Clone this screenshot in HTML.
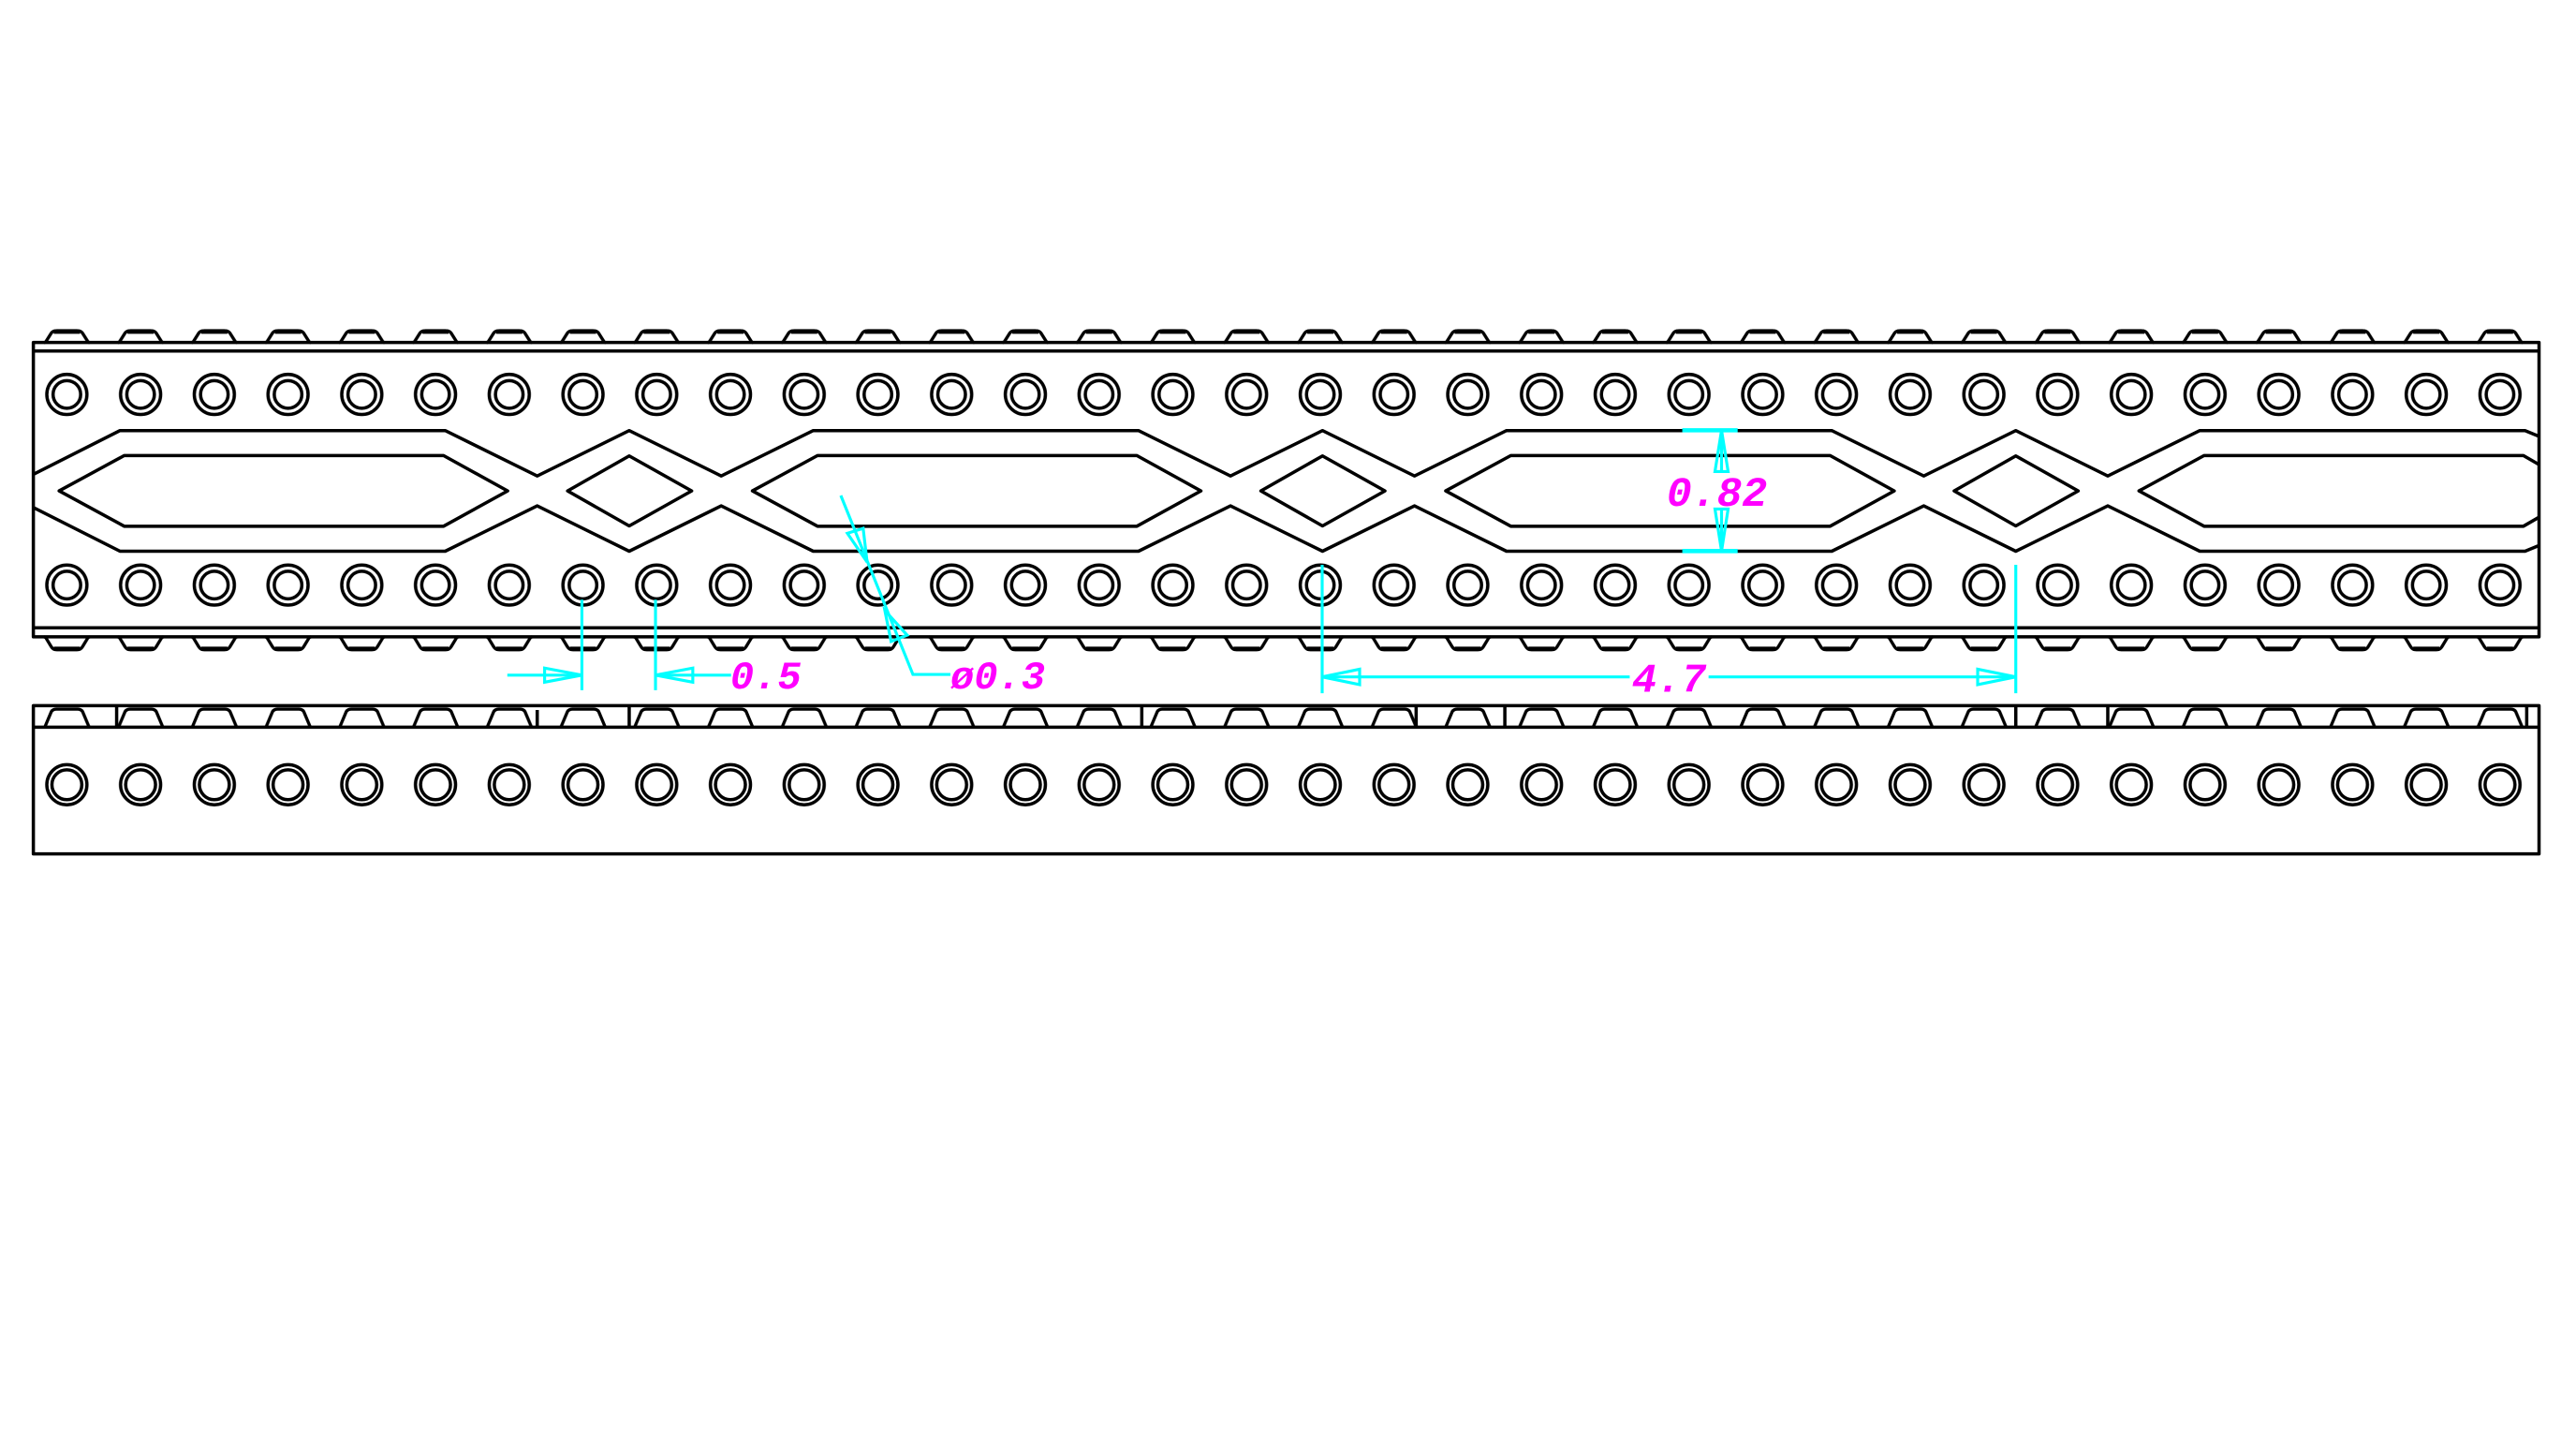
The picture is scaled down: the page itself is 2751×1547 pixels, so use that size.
<!DOCTYPE html>
<html><head><meta charset="utf-8"><style>
html,body{margin:0;padding:0;background:#fff;}
svg{display:block;}
text{font-family:"Liberation Mono","DejaVu Sans Mono",monospace;font-style:italic;font-weight:bold;fill:#ff00ff;}
</style></head><body>
<svg width="2751" height="1547" viewBox="0 0 1568 881.7" xmlns="http://www.w3.org/2000/svg">
<defs>
<pattern id="holes" patternUnits="userSpaceOnUse" x="18.26" y="0" width="44.88" height="881.7">
  <g fill="none" stroke="#000" stroke-width="2">
    <circle cx="22.44" cy="240" r="12.2"/><circle cx="22.44" cy="240" r="8.4"/>
    <circle cx="22.44" cy="356" r="12.2"/><circle cx="22.44" cy="356" r="8.4"/>
    <circle cx="22.44" cy="477.5" r="12.2"/><circle cx="22.44" cy="477.5" r="9.1"/>
  </g>
  <g fill="none" stroke="#000" stroke-width="1.9">
    <path d="M8.4,208.6 L9.6,208 L13,202.6 Q14,201.2 16.4,201.2 L28.5,201.2 Q30.9,201.2 31.9,202.6 L35.3,208 L36.5,208.6"/>
    <path d="M8.4,387.4 L9.6,388 L13,393.6 Q14,395.4 16.4,395.4 L28.5,395.4 Q30.9,395.4 31.9,393.6 L35.3,388 L36.5,387.4"/>
    <path d="M9,442.5 L13,433 Q14,431.5 16,431.5 L29,431.5 Q31,431.5 32,433 L36,442.5"/>
  </g>
  <path d="M14.5,201.8 L30.4,201.8" stroke="#000" stroke-width="2.6"/>
  <path d="M14.5,394.8 L30.4,394.8" stroke="#000" stroke-width="2.6"/>
</pattern>
</defs>
<rect x="18.26" y="0" width="1526" height="881.7" fill="url(#holes)"/>
<g fill="none" stroke="#000" stroke-width="2" stroke-linejoin="round">
  <path d="M20.3,208.4 H1545.5 V387.5 H20.3 Z"/>
  <path d="M20.3,213.6 H1545.5 M20.3,382 H1545.5"/>
  <path d="M20.3,288.6 L73,262 L271,262 L327,289.6 L383,262 L439,289.6 L495,262 L693,262 L749,289.6 L805,262 L861,289.6 L917,262 L1115,262 L1171,289.6 L1227,262 L1283,289.6 L1339,262 L1537,262 L1545.5,265.5"/>
  <path d="M20.3,308.8 L73,335.4 L271,335.4 L327,307.8 L383,335.4 L439,307.8 L495,335.4 L693,335.4 L749,307.8 L805,335.4 L861,307.8 L917,335.4 L1115,335.4 L1171,307.8 L1227,335.4 L1283,307.8 L1339,335.4 L1537,335.4 L1545.5,331.9"/>
  <path d="M36,298.7 L75.6,277.2 L270,277.2 L309,298.7 L270,320.2 L75.6,320.2 Z"/>
  <path d="M458,298.7 L497.6,277.2 L692,277.2 L731,298.7 L692,320.2 L497.6,320.2 Z"/>
  <path d="M880,298.7 L919.6,277.2 L1114,277.2 L1153,298.7 L1114,320.2 L919.6,320.2 Z"/>
  <path d="M1545.5,282.7 L1536,277.2 L1341.6,277.2 L1302,298.7 L1341.6,320.2 L1536,320.2 L1545.5,314.7"/>
  <path d="M345.5,298.7 L383,277.4 L421,298.7 L383,320 Z"/>
  <path d="M767.5,298.7 L805,277.4 L843,298.7 L805,320 Z"/>
  <path d="M1189.5,298.7 L1227,277.4 L1265,298.7 L1227,320 Z"/>
  <path d="M20.3,429.4 H1545.5 V519.6 H20.3 Z"/>
  <path d="M20.3,442.5 H1545.5"/>
  <path d="M71,429.4 V442.5 M327,432 V442.5 M383,429.4 V442.5 M695,429.4 V442.5 M862,429.4 V442.5 M916,429.4 V442.5 M1227,429.4 V442.5 M1283,429.4 V442.5 M1538,429.4 V442.5"/>
</g>
<g fill="none" stroke="#00ffff" stroke-width="1.8">
  <path d="M354.2,364.9 V420 M399,364.9 V420"/>
  <path d="M308.8,410.8 H354.2 M399,410.8 H445"/>
  <path d="M354.2,410.8 L331.5,406.5 L331.5,415.1 Z"/>
  <path d="M399,410.8 L421.7,406.5 L421.7,415.1 Z"/>
  <path d="M511.8,301.5 L555.7,410.4 H578.5"/>
  <path d="M527.8,342 L515.8,324.5 L525.4,321.5 Z"/>
  <path d="M538.6,371.4 L552.2,386.5 L542.4,390.3 Z"/>
  <path d="M1024,261.8 H1057.7 M1024,335.3 H1057.7" stroke-width="2.6"/>
  <path d="M1047.9,261.8 V287 M1047.9,309.7 V335.3"/>
  <path d="M1047.9,261.8 L1043.9,286.9 L1051.9,286.9 Z"/>
  <path d="M1047.9,335.3 L1043.9,309.7 L1051.9,309.7 Z"/>
  <path d="M804.8,343.7 V421.8 M1227,343.7 V421.8"/>
  <path d="M804.8,411.9 H992 M1040,411.9 H1227"/>
  <path d="M804.8,411.9 L827.6,407.2 L827.6,416.6 Z"/>
  <path d="M1227,411.9 L1203.8,407.2 L1203.8,416.6 Z"/>
</g>
<text x="444.5" y="419" font-size="24">0.5</text>
<text x="578.5" y="419" font-size="24">ø0.3</text>
<text x="1014.5" y="307.8" font-size="25.5">0.82</text>
<text x="993.5" y="421" font-size="25">4.7</text>
</svg>
</body></html>
